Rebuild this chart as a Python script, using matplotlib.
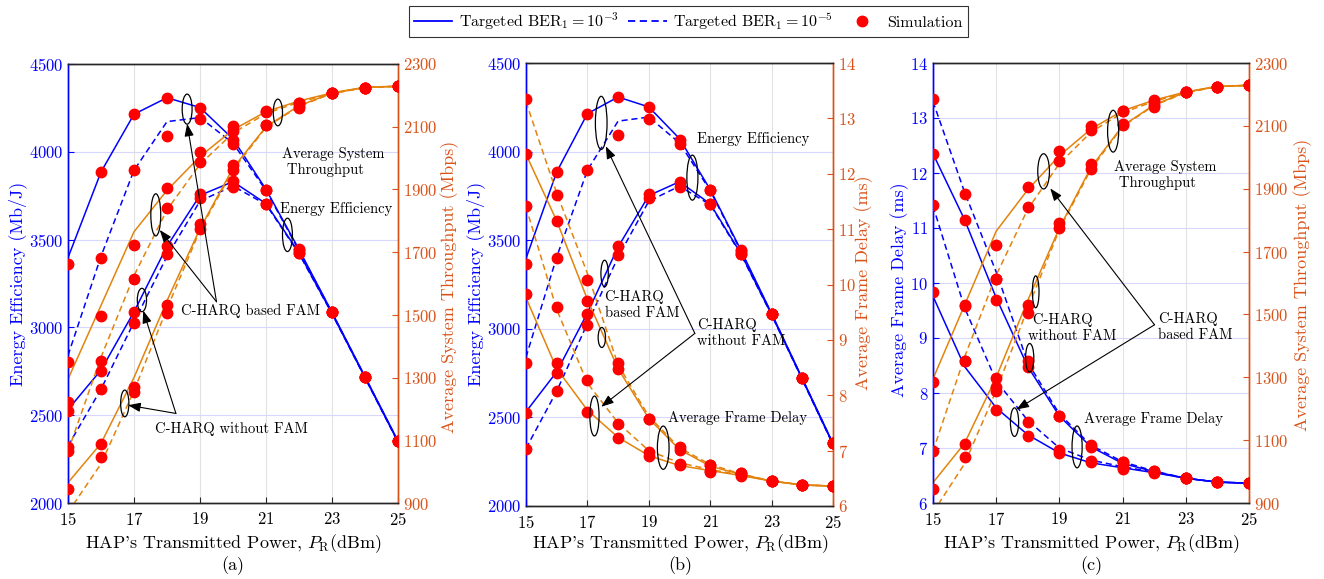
import matplotlib.pyplot as plt
from matplotlib.patches import Ellipse
from matplotlib.lines import Line2D

plt.rcParams['font.family'] = ['cmr10', 'DejaVu Serif']
plt.rcParams['mathtext.fontset'] = 'cm'
plt.rcParams['axes.formatter.use_mathtext'] = True

# HAP's transmitted power (dBm)
power = [15, 16, 17, 18, 19, 20, 21, 22, 23, 24, 25]

# energy efficiency (Mb/J), analysis
ee_fam_3 = [3397, 3885, 4214, 4308, 4252, 4073, 3786, 3444, 3086, 2720, 2353]
ee_fam_5 = [2840, 3405, 3895, 4172, 4195, 4049, 3780, 3438, 3084, 2718, 2351]
ee_nofam_3 = [2532, 2757, 3089, 3462, 3752, 3830, 3705, 3425, 3080, 2715, 2348]
ee_nofam_5 = [2325, 2648, 3030, 3405, 3720, 3805, 3700, 3420, 3078, 2713, 2346]
# energy efficiency, simulation
sim_ee_fam_3 = [3363, 3885, 4214, 4308, 4250, 4068, 3785, 3444, 3086, 2720, 2353]
sim_ee_fam_5 = [2805, 3397, 3895, 4092, 4185, 4044, 3785, 3440, 3086, 2720, 2353]
sim_ee_nofam_3 = [2523, 2751, 3086, 3466, 3760, 3831, 3705, 3421, 3086, 2720, 2353]
sim_ee_nofam_5 = [2320, 2648, 3023, 3417, 3737, 3802, 3705, 3421, 3086, 2720, 2353]

# average frame delay (ms), analysis
d_fam_3 = [9.76, 8.48, 7.73, 7.24, 6.91, 6.73, 6.64, 6.55, 6.45, 6.38, 6.36]
d_fam_5 = [11.40, 9.55, 8.22, 7.50, 7.00, 6.78, 6.66, 6.56, 6.45, 6.38, 6.36]
d_nofam_3 = [12.35, 11.15, 9.73, 8.48, 7.58, 7.02, 6.72, 6.57, 6.45, 6.38, 6.36]
d_nofam_5 = [13.30, 11.65, 10.20, 8.55, 7.62, 7.05, 6.75, 6.58, 6.45, 6.38, 6.36]
# average frame delay, simulation
sim_d_fam_3 = [9.83, 8.59, 7.70, 7.22, 6.91, 6.74, 6.62, 6.55, 6.45, 6.38, 6.36]
sim_d_fam_5 = [11.42, 9.59, 8.28, 7.48, 6.97, 6.76, 6.64, 6.57, 6.45, 6.38, 6.36]
sim_d_nofam_3 = [12.35, 11.14, 9.70, 8.48, 7.58, 7.02, 6.74, 6.59, 6.45, 6.38, 6.36]
sim_d_nofam_5 = [13.35, 11.62, 10.08, 8.58, 7.58, 7.06, 6.74, 6.59, 6.45, 6.38, 6.36]

# average system throughput (Mbps), analysis
t_fam_3 = [1295, 1530, 1765, 1897, 2005, 2090, 2148, 2182, 2208, 2226, 2229]
t_fam_5 = [1065, 1365, 1625, 1835, 1980, 2080, 2142, 2178, 2206, 2225, 2229]
t_nofam_3 = [965, 1090, 1300, 1545, 1775, 1968, 2100, 2167, 2207, 2225, 2229]
t_nofam_5 = [870, 1025, 1258, 1520, 1770, 1962, 2098, 2165, 2206, 2225, 2229]
# average system throughput, simulation
sim_t_fam_3 = [1285, 1529, 1720, 1906, 2019, 2101, 2146, 2181, 2207, 2224, 2230]
sim_t_fam_3_a = [1222, 1497, 1723, 1906, 2019, 2101, 2149, 2175, 2207, 2224, 2230]
sim_t_fam_5 = [1065, 1353, 1614, 1841, 1987, 2087, 2146, 2175, 2207, 2224, 2230]
sim_t_nofam_3 = [945, 1088, 1270, 1531, 1791, 1978, 2106, 2167, 2207, 2224, 2230]
sim_t_nofam_5 = [870, 1047, 1255, 1505, 1775, 1962, 2104, 2161, 2207, 2224, 2230]

x_ticks = [15, 17, 19, 21, 23, 25]
ee_ticks = [2000, 2500, 3000, 3500, 4000, 4500]
d_ticks = [6, 7, 8, 9, 10, 11, 12, 13, 14]
t_ticks = [900, 1100, 1300, 1500, 1700, 1900, 2100, 2300]

BLUE = '#0000ff'
ORANGE = '#e3830c'
RIGHTC = '#d95319'
DARK = '#262626'
LW = 1.1
DASH = (0, (4, 2.5))
MS = 7.5
FS_TICK = 12
FS_LAB = 13
FS_ANN = 10.5

fig = plt.figure(figsize=(13.24, 5.79), dpi=100)


def panel(rect, left_lines, right_lines, left_sim, right_sim,
          left_lim, right_lim, left_ticks, right_ticks):
    ax = fig.add_axes(rect)
    ax2 = ax.twinx()
    ax.set_xlim(15, 25)
    ax.set_ylim(*left_lim)
    ax2.set_ylim(*right_lim)
    ax.set_xticks(x_ticks)
    ax.set_yticks(left_ticks)
    ax2.set_yticks(right_ticks)

    ax.grid(axis='x', color='#e2e2e2', lw=0.8)
    ax.grid(axis='y', color='#d8d8ff', lw=0.8)
    ax.set_axisbelow(True)

    for vals, ls in left_lines:
        ax.plot(power, vals, color=BLUE, ls=ls, lw=LW)
    for vals, ls in right_lines:
        ax2.plot(power, vals, color=ORANGE, ls=ls, lw=LW)
    for vals in right_sim:
        ax2.plot(power, vals, 'o', color='red', ms=MS, zorder=5)
    for vals in left_sim:
        ax2.plot(power, vals, 'o', color='red', ms=MS, zorder=5,
                 transform=ax.transData)
    ax.set_xlim(15, 25)
    ax.set_ylim(*left_lim)
    ax2.set_ylim(*right_lim)

    for a in (ax, ax2):
        a.spines['left'].set_color(BLUE)
        a.spines['right'].set_color(RIGHTC)
        a.spines['top'].set_color(DARK)
        a.spines['bottom'].set_color(DARK)
        for s in a.spines.values():
            s.set_linewidth(1.0)
    ax.tick_params(axis='y', colors=BLUE, direction='in', length=4,
                   labelsize=FS_TICK)
    ax.tick_params(axis='x', colors=DARK, labelcolor='black', direction='in',
                   length=4, labelsize=FS_TICK, pad=6)
    ax2.tick_params(axis='y', colors=RIGHTC, direction='in', length=4,
                    labelsize=FS_TICK)
    return ax, ax2


def ellipse(ax, ax2, x, y, w, h):
    ax2.add_patch(Ellipse((x, y), w, h, fill=False, ec='black', lw=0.9,
                          transform=ax.transData, zorder=6))


def arrow(ax, ax2, tail, head):
    ax2.annotate('', xy=head, xytext=tail, xycoords=ax.transData,
                 textcoords=ax.transData, zorder=7,
                 arrowprops=dict(arrowstyle='-|>,head_length=0.75,head_width=0.28',
                                 color='black', lw=0.8, shrinkA=0, shrinkB=0))


def label(ax, ax2, x, y, s):
    ax2.text(x, y, s, transform=ax.transData, fontsize=FS_ANN,
             ha='left', va='center', zorder=7)


def ylabel(xpix, ypix, s, color):
    fig.text(xpix / 1324, 1 - ypix / 579, s, rotation=90, color=color,
             fontsize=FS_LAB, ha='center', va='center')


def bottom_texts(xcenter, s):
    fig.text(xcenter / 1324, 1 - 544 / 579,
             r"HAP's Transmitted Power, $P_{\mathrm{R}}$(dBm)",
             fontsize=FS_LAB, ha='center', va='center')
    fig.text(xcenter / 1324, 1 - 566 / 579, s, fontsize=FS_LAB,
             ha='center', va='center')


# ---- panel (a): energy efficiency / throughput
ax, ax2 = panel([68 / 1324, 76 / 579, 330 / 1324, 439 / 579],
                [(ee_fam_3, '-'), (ee_fam_5, DASH),
                 (ee_nofam_3, '-'), (ee_nofam_5, DASH)],
                [(t_fam_3, '-'), (t_fam_5, DASH),
                 (t_nofam_3, '-'), (t_nofam_5, DASH)],
                [sim_ee_fam_3, sim_ee_fam_5, sim_ee_nofam_3, sim_ee_nofam_5],
                [sim_t_fam_3_a, sim_t_fam_5, sim_t_nofam_3, sim_t_nofam_5],
                (2000, 4500), (900, 2300), ee_ticks, t_ticks)
ellipse(ax, ax2, 18.61, 4243, 0.30, 171)
ellipse(ax, ax2, 17.66, 3641, 0.30, 240)
ellipse(ax, ax2, 17.24, 3156, 0.28, 133)
ellipse(ax, ax2, 16.72, 2567, 0.25, 152)
ellipse(ax, ax2, 21.36, 4224, 0.28, 152)
ellipse(ax, ax2, 21.65, 3527, 0.30, 190)
arrow(ax, ax2, (19.50, 3146), (18.61, 4160))
arrow(ax, ax2, (19.50, 3146), (17.78, 3555))
arrow(ax, ax2, (18.27, 2510), (17.28, 3095))
arrow(ax, ax2, (18.27, 2510), (16.82, 2557))
label(ax, ax2, 18.42, 3093, 'C-HARQ based FAM')
label(ax, ax2, 17.65, 2420, 'C-HARQ without FAM')
label(ax, ax2, 21.48, 3940, 'Average System\n Throughput')
label(ax, ax2, 21.43, 3673, 'Energy Efficiency')
bottom_texts(233, '(a)')
ylabel(18, 284, 'Energy Efficiency (Mb/J)', BLUE)
ylabel(450, 287, 'Average System Throughput (Mbps)', RIGHTC)

# ---- panel (b): energy efficiency / frame delay
ax, ax2 = panel([526 / 1324, 73 / 579, 307 / 1324, 443 / 579],
                [(ee_fam_3, '-'), (ee_fam_5, DASH),
                 (ee_nofam_3, '-'), (ee_nofam_5, DASH)],
                [(d_fam_3, '-'), (d_fam_5, DASH),
                 (d_nofam_3, '-'), (d_nofam_5, DASH)],
                [sim_ee_fam_3, sim_ee_fam_5, sim_ee_nofam_3, sim_ee_nofam_5],
                [sim_d_fam_3, sim_d_fam_5, sim_d_nofam_3, sim_d_nofam_5],
                (2000, 4500), (6, 14), ee_ticks, d_ticks)
ellipse(ax, ax2, 17.45, 4162, 0.38, 300)
ellipse(ax, ax2, 20.42, 3853, 0.36, 254)
ellipse(ax, ax2, 17.56, 3312, 0.24, 150)
ellipse(ax, ax2, 17.47, 2951, 0.24, 113)
ellipse(ax, ax2, 17.23, 2508, 0.30, 225)
ellipse(ax, ax2, 19.47, 2329, 0.38, 244)
arrow(ax, ax2, (20.50, 2974), (17.60, 4030))
arrow(ax, ax2, (20.50, 2974), (17.45, 2560))
label(ax, ax2, 20.58, 4073, 'Energy Efficiency')
label(ax, ax2, 17.56, 3133, 'C-HARQ\nbased FAM')
label(ax, ax2, 20.56, 2978, 'C-HARQ\nwithout FAM')
label(ax, ax2, 19.64, 2494, 'Average Frame Delay')
bottom_texts(680, '(b)')
ylabel(476, 284, 'Energy Efficiency (Mb/J)', BLUE)
ylabel(864, 283, 'Average Frame Delay (ms)', RIGHTC)

# ---- panel (c): frame delay / throughput
ax, ax2 = panel([933 / 1324, 76 / 579, 316 / 1324, 440 / 579],
                [(d_fam_3, '-'), (d_fam_5, DASH),
                 (d_nofam_3, '-'), (d_nofam_5, DASH)],
                [(t_fam_3, '-'), (t_fam_5, DASH),
                 (t_nofam_3, '-'), (t_nofam_5, DASH)],
                [sim_d_fam_3, sim_d_fam_5, sim_d_nofam_3, sim_d_nofam_5],
                [sim_t_fam_3, sim_t_fam_5, sim_t_nofam_3, sim_t_nofam_5],
                (6, 14), (900, 2300), d_ticks, t_ticks)
ellipse(ax, ax2, 18.50, 12.03, 0.37, 0.64)
ellipse(ax, ax2, 20.70, 12.76, 0.35, 0.76)
ellipse(ax, ax2, 18.25, 9.84, 0.21, 0.58)
ellipse(ax, ax2, 18.06, 8.64, 0.26, 0.52)
ellipse(ax, ax2, 17.58, 7.47, 0.26, 0.52)
ellipse(ax, ax2, 19.56, 7.02, 0.32, 0.76)
arrow(ax, ax2, (22.01, 9.24), (18.71, 11.72))
arrow(ax, ax2, (22.01, 9.24), (17.64, 7.70))
label(ax, ax2, 20.73, 11.96, 'Average System\n Throughput')
label(ax, ax2, 18.00, 9.18, ' C-HARQ\nwithout FAM')
label(ax, ax2, 22.12, 9.20, 'C-HARQ\nbased FAM')
label(ax, ax2, 19.78, 7.53, 'Average Frame Delay')
bottom_texts(1091, '(c)')
ylabel(900, 290, 'Average Frame Delay (ms)', BLUE)
ylabel(1303, 285, 'Average System Throughput (Mbps)', RIGHTC)

# ---- shared legend
handles = [Line2D([], [], color=BLUE, lw=LW + 0.2, ls='-'),
           Line2D([], [], color=BLUE, lw=LW + 0.2, ls=DASH),
           Line2D([], [], color='red', marker='o', ls='none', ms=MS)]
labels = [r'Targeted BER$_1 = 10^{-3}$', r'Targeted BER$_1 = 10^{-5}$',
          'Simulation']
leg = fig.legend(handles, labels, loc='center', bbox_to_anchor=(0.52, 0.963),
                 ncol=3, fontsize=11.5, frameon=True, fancybox=False,
                 edgecolor='black', handlelength=2.4, columnspacing=0.6,
                 handletextpad=0.4, borderpad=0.3)
leg.get_frame().set_linewidth(0.8)

fig.savefig('out.png', dpi=100)
